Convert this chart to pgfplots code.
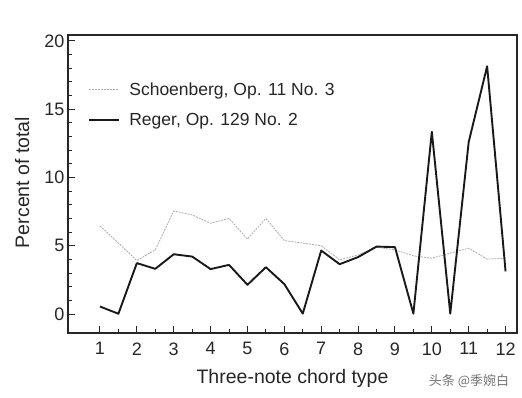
\documentclass[border=0pt]{standalone}
\usepackage{fontspec}
\setmainfont{Liberation Sans}
\newfontfamily\cjk{Noto Sans CJK SC}
\usepackage{pgfplots}
\pgfplotsset{compat=1.18}
\usepackage{pgfplotstable}
\pgfplotstableread{
x s r
1 6.45 0.55
1.5 5.2 0.02
2 3.92 3.73
2.5 4.7 3.31
3 7.55 4.38
3.5 7.26 4.21
4 6.65 3.29
4.5 7.0 3.6
5 5.5 2.14
5.5 7.0 3.43
6 5.38 2.19
6.5 5.2 0.03
7 5.0 4.65
7.5 3.97 3.65
8 4.33 4.17
8.5 4.9 4.94
9 4.7 4.9
9.5 4.26 0.03
10 4.09 13.35
10.5 4.46 0.03
11 4.82 12.6
11.5 4.02 18.15
12 4.09 3.12
}\data
\begin{document}
\begin{tikzpicture}
\useasboundingbox (0,0) rectangle (522pt,398pt);
\begin{axis}[
  at={(68pt,65pt)}, anchor=south west,
  scale only axis, width=449pt, height=298pt,
  xmin=0.133, xmax=12.31, ymin=-1.39, ymax=20.44,
  xtick={1,...,12}, minor xtick={1.5,2.5,...,11.5},
  ytick={0,5,...,20}, minor ytick={1,2,3,4,6,7,8,9,11,12,13,14,16,17,18,19},
  xtick pos=bottom, ytick pos=left, tick align=inside,
  major tick length=7pt, minor tick length=4pt,
  every tick/.style={black!85, line width=1pt},
  axis line style={black!85, line width=1.3pt},
  /pgf/number format/assume math mode=true,
  tick label style={font=\fontsize{18}{20}\selectfont, text=black!85},
  xticklabel style={yshift=-6pt},
  xlabel={Three-note chord type}, ylabel={Percent of total},
  label style={font=\fontsize{19.5}{22}\selectfont, text=black!85},
  xlabel style={at={(axis description cs:0.5,-0.154)}, anchor=center},
  ylabel style={at={(axis description cs:-0.102,0.505)}, anchor=center},
  legend style={at={(axis description cs:0.045,0.847)}, anchor=north west,
    draw=none, fill=none, font=\fontsize{17.5}{19}\selectfont, text=black!85,
    row sep=12pt, inner sep=0pt},
  legend cell align=left,
  legend image code/.code={\draw[#1] (0pt,0pt) -- (30pt,0pt); \draw[draw=none] (30pt,0pt) -- (38pt,0pt);},
]
\addplot[gray!65, line width=0.8pt, dash pattern=on 2pt off 1pt] table[x=x,y=s]{\data};
\addlegendentry{Schoenberg, Op. 11 No. 3}
\addplot[black!90, line width=1.9pt, line join=round] table[x=x,y=r]{\data};
\addlegendentry{Reger, Op. 129 No. 2}
\end{axis}
\node[font=\cjk\fontsize{13}{15}\selectfont, text=black!55] at (469pt,17pt) {头条 @季婉白};
\end{tikzpicture}
\end{document}
